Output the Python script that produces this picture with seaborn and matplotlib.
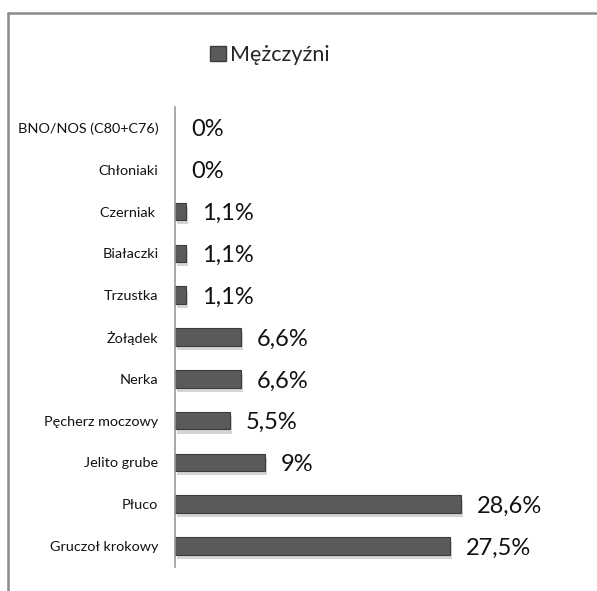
import matplotlib
matplotlib.use("Agg")
import matplotlib.pyplot as plt
import matplotlib.patheffects as pe
from matplotlib.lines import Line2D
from matplotlib.patches import Rectangle
import seaborn as sns
import pandas as pd

# Data (top to bottom)
categories = ['BNO/NOS (C80+C76)', 'Chłoniaki', 'Czerniak ', 'Białaczki', 'Trzustka',
              'Żołądek', 'Nerka', 'Pęcherz moczowy', 'Jelito grube', 'Płuco',
              'Gruczoł krokowy']
values = [0, 0, 1.1, 1.1, 1.1, 6.6, 6.6, 5.5, 9, 28.6, 27.5]
series_name = 'Mężczyźni'

sns.set_theme(style='white')
plt.rcParams['font.family'] = ['Lato', 'DejaVu Sans']

df = pd.DataFrame({'cat': categories, 'val': values})

fig = plt.figure(figsize=(5.97, 5.91), dpi=100)
ax = fig.add_axes([175 / 597, 24 / 591, 400 / 597, 460 / 591])

sns.barplot(ax=ax, data=df, y='cat', x='val', order=categories, orient='h',
            color='#5a5a5a', width=0.42, saturation=1,
            edgecolor='#3c3c3c', linewidth=0.8)
for bar, v in zip(ax.patches, values):
    if v == 0:
        bar.set_visible(False)
        continue
    bar.set_path_effects([pe.SimplePatchShadow(offset=(1.5, -3), alpha=0.18),
                          pe.Normal()])

for i, v in enumerate(values):
    label = f'{v:g}'.replace('.', ',') + '%'
    ax.annotate(label, xy=(v, i), xytext=(11.5, -1.5), textcoords='offset points',
                ha='left', va='center', fontsize=17, color='#111111')

ax.set_xlim(0, 40)
ax.set_ylim(len(categories) - 0.5, -0.5)
ax.set_xlabel('')
ax.set_ylabel('')
ax.set_xticks([])
ax.tick_params(axis='y', length=0, pad=12, labelsize=10.4, labelcolor='#111111')
for s in ['top', 'right', 'bottom']:
    ax.spines[s].set_visible(False)
ax.spines['left'].set_color('#9a9a9a')
ax.spines['left'].set_linewidth(1.2)

# legend at the top
handle = Rectangle((0, 0), 1, 1, facecolor='#5a5a5a', edgecolor='#3c3c3c')
fig.legend([handle], [series_name], loc='center', bbox_to_anchor=(270 / 597, 1 - 55 / 591),
           frameon=False, fontsize=15.5, handlelength=0.75, handleheight=0.75,
           handletextpad=0.2)

# outer chart frame (cropped at right and bottom)
fig.add_artist(Line2D([8 / 597, 8 / 597], [0, 1 - 13 / 591], color='#8a8a8a', lw=1.8))
fig.add_artist(Line2D([8 / 597, 1], [1 - 13 / 591, 1 - 13 / 591], color='#8a8a8a', lw=1.8))

fig.savefig('out.png', dpi=100)
